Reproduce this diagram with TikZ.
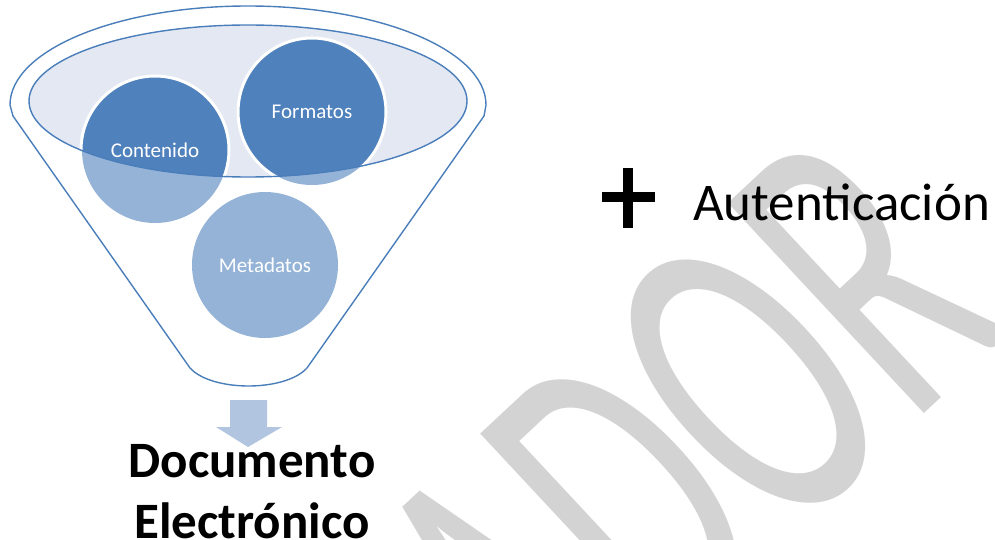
\documentclass[tikz,border=0pt]{standalone}
\usepackage{fontspec}
\setmainfont{Carlito}
\usetikzlibrary{positioning}
\definecolor{rim}{HTML}{4A7EBB}
\definecolor{dark}{HTML}{4F81BD}
\definecolor{light}{HTML}{95B3D7}
\definecolor{bowl}{HTML}{E3E8F2}
\definecolor{arrowfill}{HTML}{B1C4E0}
\definecolor{wmgray}{HTML}{D3D3D3}
\begin{document}
\begin{tikzpicture}[x=1pt,y=1pt,line join=round,
	rimline/.style={draw=rim,line width=1.4pt},
	balltext/.style={text=white,font=\fontsize{21}{21}\selectfont},
	docfont/.style={font=\bfseries\fontsize{51}{51}\selectfont,inner sep=0pt,anchor=base}]
	\useasboundingbox (0,0) rectangle (995,539);
	\path
	(248,438) coordinate (E)
	(155,389) coordinate (cont)
	(312,427) coordinate (form)
	(265,274) coordinate (meta)
	;
	% watermark
	\begin{scope}[shift={(551,-223)},rotate=43,xscale=6.6,yscale=11.2]
		\node[anchor=base west,text=wmgray,font=\fontsize{40}{40}\selectfont,inner sep=0pt,transform shape] (wm) at (0,0) {ADOR};
	\end{scope}
	% funnel
	\draw[rimline] (10,434) arc[start angle=180,end angle=0,x radius=238,y radius=99] -- (484,423) -- (307,171)
	.. controls (285,147) and (212,147) .. (190,171) -- (13,423) -- cycle;
	\fill[bowl] (E) ellipse[x radius=219,y radius=76];
	\foreach \p in {cont,form,meta}
	\fill[light] (\p) circle(73);
	\begin{scope}
		\clip (E) ellipse[x radius=219,y radius=76];
		\foreach \p in {cont,form}
		\filldraw[fill=dark,draw=white,line width=3pt] (\p) circle(74);
	\end{scope}
	\draw[rimline] (E) ellipse[x radius=219,y radius=76];
	\foreach \p/\t in {cont/Contenido,form/Formatos,meta/Metadatos}
	\node[balltext] (\p-label) at (\p) {\t};
	% arrow and result
	\fill[arrowfill] (230,139) -- (267,139) -- (267,112) -- (282,112) -- (248,92) -- (216,112) -- (230,112) -- cycle;
	\node[docfont] (doc1) at (252,62) {Documento};
	\node[docfont] (doc2) at ([yshift=-61pt]doc1.base) {Electrónico};
	% plus
	\draw[line width=10pt] (602,342) -- (655,342) (628,371) -- (628,311);
	\node[anchor=base west,font=\fontsize{53}{53}\selectfont,inner sep=0pt] (auth) at (693,319) {Autenticación};
\end{tikzpicture}
\end{document}
